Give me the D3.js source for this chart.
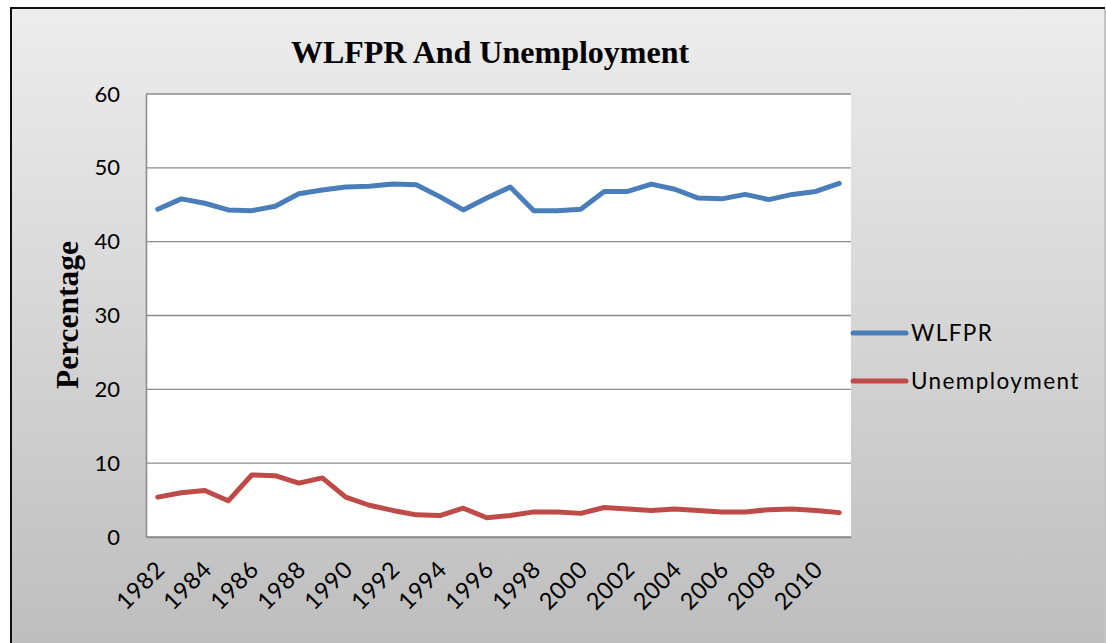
<!DOCTYPE html>
<html>
<head>
<meta charset="utf-8">
<script src="https://cdn.jsdelivr.net/npm/d3@7"></script>
<style>
  html, body { margin: 0; padding: 0; background: #ffffff; }
  svg { display: block; }
</style>
</head>
<body>
<svg id="chart" width="1106" height="643"></svg>
<script>
// Years on the category axis
const years = [1982, 1983, 1984, 1985, 1986, 1987, 1988, 1989, 1990, 1991,
               1992, 1993, 1994, 1995, 1996, 1997, 1998, 1999, 2000, 2001,
               2002, 2003, 2004, 2005, 2006, 2007, 2008, 2009, 2010, 2011];

// Women's labour force participation rate (%)
const wlfpr = [44.4, 45.8, 45.2, 44.3, 44.2, 44.8, 46.5, 47.0, 47.4, 47.5,
               47.8, 47.7, 46.1, 44.3, 45.9, 47.4, 44.2, 44.2, 44.4, 46.8,
               46.8, 47.8, 47.1, 45.9, 45.8, 46.4, 45.7, 46.4, 46.8, 47.9];

// Unemployment rate (%)
const unemployment = [5.4, 6.0, 6.3, 4.9, 8.4, 8.3, 7.3, 8.0, 5.4, 4.3,
                      3.6, 3.0, 2.9, 3.9, 2.6, 2.9, 3.4, 3.4, 3.2, 4.0,
                      3.8, 3.6, 3.8, 3.6, 3.4, 3.4, 3.7, 3.8, 3.6, 3.3];

// Labelled years and y ticks
const yearLabels = [1982, 1984, 1986, 1988, 1990, 1992, 1994, 1996,
                    1998, 2000, 2002, 2004, 2006, 2008, 2010];
const yTicks = [0, 10, 20, 30, 40, 50, 60];

const seriesNames = ["WLFPR", "Unemployment"];
const seriesColors = ["#4a7ebb", "#be4b48"];

const svg = d3.select("#chart");
const W = 1106, H = 643;
const sans = "Lato, 'Open Sans', sans-serif";
const serif = "'Liberation Serif', 'Times New Roman', serif";

// Chart area background with vertical gradient
const defs = svg.append("defs");
const grad = defs.append("linearGradient")
  .attr("id", "bg")
  .attr("gradientUnits", "userSpaceOnUse")
  .attr("x1", 0).attr("y1", 7).attr("x2", 0).attr("y2", 643);
grad.append("stop").attr("offset", "0%").attr("stop-color", "#ededed");
grad.append("stop").attr("offset", "100%").attr("stop-color", "#bebebe");

svg.append("rect").attr("x", 0).attr("y", 0).attr("width", W).attr("height", H).attr("fill", "#ffffff");
svg.append("rect")
  .attr("x", 11).attr("y", 8).attr("width", 1093).attr("height", 700)
  .attr("fill", "url(#bg)");
// frame
svg.append("line").attr("x1", 10).attr("x2", 1105).attr("y1", 8).attr("y2", 8)
  .attr("stroke", "#111").attr("stroke-width", 2);
svg.append("line").attr("x1", 11).attr("x2", 11).attr("y1", 7).attr("y2", H)
  .attr("stroke", "#111").attr("stroke-width", 2);
svg.append("line").attr("x1", 1105).attr("x2", 1105).attr("y1", 9).attr("y2", H)
  .attr("stroke", "#9a9a9a").attr("stroke-width", 1.2);

// Plot area
const plot = { left: 146, right: 851, top: 94, bottom: 537 };

const x = d3.scalePoint()
  .domain(years)
  .range([plot.left, plot.right])
  .padding(0.5);

const y = d3.scaleLinear()
  .domain([0, 60])
  .range([plot.bottom, plot.top]);

svg.append("rect")
  .attr("x", plot.left).attr("y", plot.top)
  .attr("width", plot.right - plot.left).attr("height", plot.bottom - plot.top)
  .attr("fill", "#ffffff");

// Horizontal gridlines
svg.append("g")
  .selectAll("line")
  .data(yTicks)
  .join("line")
  .attr("x1", plot.left).attr("x2", plot.right)
  .attr("y1", d => y(d)).attr("y2", d => y(d))
  .attr("stroke", "#8c8c8c").attr("stroke-width", 1.4);

// Y axis
const yAxis = svg.append("g")
  .attr("transform", `translate(${plot.left},0)`)
  .call(d3.axisLeft(y).tickValues(yTicks).tickSize(0).tickPadding(26));
yAxis.select(".domain").attr("stroke", "#8c8c8c").attr("stroke-width", 1.6);
yAxis.selectAll("text")
  .attr("font-family", sans)
  .attr("font-size", 22)
  .attr("fill", "#000");

// X axis with rotated year labels
const xAxis = svg.append("g")
  .attr("transform", `translate(0,${plot.bottom})`)
  .call(d3.axisBottom(x).tickValues(yearLabels).tickSize(0).tickPadding(0));
xAxis.select(".domain").attr("stroke", "#8c8c8c").attr("stroke-width", 1.6);
xAxis.selectAll("text")
  .attr("font-family", sans)
  .attr("font-size", 23.5)
  .attr("letter-spacing", 0.6)
  .attr("fill", "#000")
  .attr("text-anchor", "end")
  .attr("dy", 0)
  .attr("y", 0)
  .attr("transform", "translate(8,34) rotate(-45)");

// Lines
const line = d3.line()
  .x((d, i) => x(years[i]))
  .y(d => y(d));

[wlfpr, unemployment].forEach((vals, k) => {
  svg.append("path")
    .datum(vals)
    .attr("d", line)
    .attr("fill", "none")
    .attr("stroke", seriesColors[k])
    .attr("stroke-width", 5)
    .attr("stroke-linejoin", "round")
    .attr("stroke-linecap", "round");
});

// Title
svg.append("text")
  .attr("x", 490).attr("y", 63)
  .attr("text-anchor", "middle")
  .attr("font-family", serif)
  .attr("font-weight", "bold")
  .attr("font-size", 32)
  .attr("fill", "#000")
  .text("WLFPR And Unemployment");

// Y axis title
svg.append("text")
  .attr("transform", "translate(78,315) rotate(-90)")
  .attr("text-anchor", "middle")
  .attr("font-family", serif)
  .attr("font-weight", "bold")
  .attr("font-size", 31.5)
  .attr("fill", "#000")
  .text("Percentage");

// Legend
const legend = svg.append("g");
const legendY = [333, 381];
seriesNames.forEach((name, k) => {
  legend.append("line")
    .attr("x1", 853).attr("x2", 906)
    .attr("y1", legendY[k]).attr("y2", legendY[k])
    .attr("stroke", seriesColors[k])
    .attr("stroke-width", 5)
    .attr("stroke-linecap", "round");
  legend.append("text")
    .attr("x", 911).attr("y", legendY[k] + 7.5)
    .attr("font-family", sans)
    .attr("font-size", 22.5)
    .attr("letter-spacing", 1.4)
    .attr("fill", "#000")
    .text(name);
});
</script>
</body>
</html>
